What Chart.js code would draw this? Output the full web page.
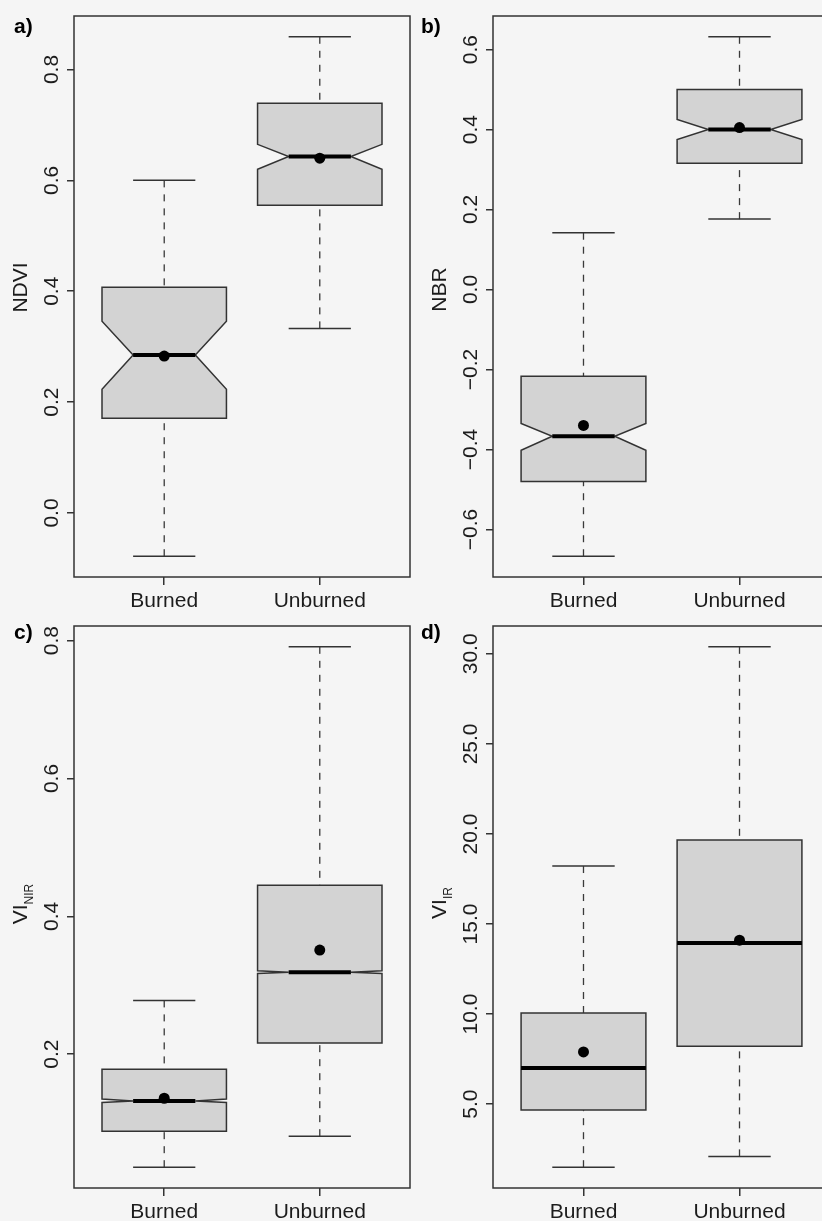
<!DOCTYPE html>
<html>
<head>
<meta charset="utf-8">
<script src="https://cdn.jsdelivr.net/npm/chart.js@4"></script>
<style>
  html, body { margin: 0; padding: 0; background: #f5f5f5; overflow: hidden; }
  body { width: 822px; height: 1221px; position: relative; }
  canvas { position: absolute; }
</style>
</head>
<body>
<canvas id="pa" width="411" height="610" style="left:0;top:0"></canvas>
<canvas id="pb" width="420" height="610" style="left:411px;top:0"></canvas>
<canvas id="pc" width="411" height="611" style="left:0;top:610px"></canvas>
<canvas id="pd" width="420" height="611" style="left:411px;top:610px"></canvas>
<script>
const categories = ["Burned", "Unburned"];

// a) NDVI
const ndviLow     = [-0.078, 0.333];
const ndviQ1      = [0.171, 0.555];
const ndviNotchLo = [0.223, 0.620];
const ndviMedian  = [0.285, 0.643];
const ndviNotchHi = [0.346, 0.665];
const ndviQ3      = [0.407, 0.739];
const ndviHigh    = [0.600, 0.859];
const ndviMean    = [0.283, 0.640];
const ndviTicks   = [0.0, 0.2, 0.4, 0.6, 0.8];

// b) NBR
const nbrLow     = [-0.667, 0.176];
const nbrQ1      = [-0.480, 0.316];
const nbrNotchLo = [-0.402, 0.375];
const nbrMedian  = [-0.367, 0.400];
const nbrNotchHi = [-0.335, 0.425];
const nbrQ3      = [-0.217, 0.500];
const nbrHigh    = [0.142, 0.632];
const nbrMean    = [-0.340, 0.405];
const nbrTicks   = [-0.6, -0.4, -0.2, 0.0, 0.2, 0.4, 0.6];

// c) VI NIR
const nirLow     = [0.036, 0.081];
const nirQ1      = [0.088, 0.216];
const nirNotchLo = [0.130, 0.317];
const nirMedian  = [0.132, 0.319];
const nirNotchHi = [0.135, 0.321];
const nirQ3      = [0.178, 0.445];
const nirHigh    = [0.278, 0.791];
const nirMean    = [0.136, 0.351];
const nirTicks   = [0.2, 0.4, 0.6, 0.8];

// d) VI IR (no notches)
const irLow    = [1.5, 2.1];
const irQ1     = [4.67, 8.22];
const irMedian = [7.0, 13.94];
const irQ3     = [10.06, 19.67];
const irHigh   = [18.22, 30.39];
const irMean   = [7.9, 14.1];
const irTicks  = [5, 10, 15, 20, 25, 30];

const FONT   = '"Liberation Sans", Arial, sans-serif';
const TEXT   = "#1c1c1c";
const LINE   = "#333";
const FILL   = "#d3d3d3";
const BOXWEX = 0.8;

const panels = [
  { id: "pa", tag: "a)", title: "NDVI", sub: "", low: ndviLow, q1: ndviQ1, nlo: ndviNotchLo, med: ndviMedian,
    nhi: ndviNotchHi, q3: ndviQ3, high: ndviHigh, mean: ndviMean, ticks: ndviTicks,
    axisW: 74, tagX: 14, tagY: 33, titleShift: -9 },
  { id: "pb", tag: "b)", title: "NBR", sub: "", low: nbrLow, q1: nbrQ1, nlo: nbrNotchLo, med: nbrMedian,
    nhi: nbrNotchHi, q3: nbrQ3, high: nbrHigh, mean: nbrMean, ticks: nbrTicks,
    axisW: 82, tagX: 10, tagY: 33, titleShift: -7 },
  { id: "pc", tag: "c)", title: "VI", sub: "NIR", low: nirLow, q1: nirQ1, nlo: nirNotchLo, med: nirMedian,
    nhi: nirNotchHi, q3: nirQ3, high: nirHigh, mean: nirMean, ticks: nirTicks,
    axisW: 74, tagX: 14, tagY: 29, titleShift: -3 },
  { id: "pd", tag: "d)", title: "VI", sub: "IR", low: irLow, q1: irQ1, nlo: null, med: irMedian,
    nhi: null, q3: irQ3, high: irHigh, mean: irMean, ticks: irTicks,
    axisW: 82, tagX: 10, tagY: 29, titleShift: -4 },
];

function fmt(v) {
  return v.toFixed(1).replace("-", "\u2212");
}

const measureCtx = document.createElement("canvas").getContext("2d");
function widestLabel(ticks) {
  measureCtx.font = "21px " + FONT;
  return Math.max(...ticks.map(t => measureCtx.measureText(fmt(t)).width));
}

function seg(ctx, x1, y1, x2, y2) {
  ctx.beginPath();
  ctx.moveTo(x1, y1);
  ctx.lineTo(x2, y2);
  ctx.stroke();
}

function boxPlugin(p) {
  return {
    id: "boxes_" + p.id,
    beforeDatasetsDraw(chart) {
      const { ctx, scales: { x, y } } = chart;
      ctx.save();
      categories.forEach((c, i) => {
        const cx = x.getPixelForValue(i + 1);
        const hw = x.getPixelForValue(i + 1 + BOXWEX / 2) - cx;
        const nw = hw / 2;
        const yLow = y.getPixelForValue(p.low[i]);
        const yQ1 = y.getPixelForValue(p.q1[i]);
        const yMed = y.getPixelForValue(p.med[i]);
        const yQ3 = y.getPixelForValue(p.q3[i]);
        const yHigh = y.getPixelForValue(p.high[i]);
        const notched = !!p.nlo;

        // whiskers, dashed, from the end toward the hinge
        ctx.strokeStyle = "#3a3a3a";
        ctx.lineWidth = 1.3;
        ctx.setLineDash([7, 7]);
        seg(ctx, cx, yLow, cx, yQ1);
        seg(ctx, cx, yHigh, cx, yQ3);
        ctx.setLineDash([]);
        ctx.strokeStyle = LINE;
        ctx.lineWidth = 1.5;
        seg(ctx, cx - nw, yLow, cx + nw, yLow);
        seg(ctx, cx - nw, yHigh, cx + nw, yHigh);

        // box body
        ctx.beginPath();
        if (notched) {
          const yNlo = y.getPixelForValue(p.nlo[i]);
          const yNhi = y.getPixelForValue(p.nhi[i]);
          ctx.moveTo(cx - hw, yQ3);
          ctx.lineTo(cx + hw, yQ3);
          ctx.lineTo(cx + hw, yNhi);
          ctx.lineTo(cx + nw, yMed);
          ctx.lineTo(cx + hw, yNlo);
          ctx.lineTo(cx + hw, yQ1);
          ctx.lineTo(cx - hw, yQ1);
          ctx.lineTo(cx - hw, yNlo);
          ctx.lineTo(cx - nw, yMed);
          ctx.lineTo(cx - hw, yNhi);
        } else {
          ctx.rect(cx - hw, yQ3, 2 * hw, yQ1 - yQ3);
        }
        ctx.closePath();
        ctx.fillStyle = FILL;
        ctx.fill();
        ctx.stroke();

        // median
        ctx.strokeStyle = "#000";
        ctx.lineWidth = 4;
        const mw = notched ? nw : hw;
        seg(ctx, cx - mw, yMed, cx + mw, yMed);
      });
      ctx.restore();
    },
    afterDraw(chart) {
      const { ctx, chartArea: a } = chart;
      ctx.save();
      ctx.strokeStyle = LINE;
      ctx.lineWidth = 1.5;
      ctx.strokeRect(a.left, a.top, a.right - a.left, a.bottom - a.top);

      // y title (with optional subscript)
      ctx.fillStyle = TEXT;
      ctx.translate(a.left - 47, (a.top + a.bottom) / 2 + p.titleShift);
      ctx.rotate(-Math.PI / 2);
      ctx.textBaseline = "alphabetic";
      ctx.textAlign = "left";
      ctx.font = "21px " + FONT;
      const w1 = ctx.measureText(p.title).width;
      ctx.font = "12px " + FONT;
      const w2 = p.sub ? ctx.measureText(p.sub).width : 0;
      const start = -(w1 + w2) / 2;
      ctx.font = "21px " + FONT;
      ctx.fillText(p.title, start, 0);
      if (p.sub) {
        ctx.font = "12px " + FONT;
        ctx.fillText(p.sub, start + w1, 6);
      }
      ctx.restore();

      ctx.save();
      ctx.fillStyle = "#000";
      ctx.font = "bold 21px " + FONT;
      ctx.textBaseline = "alphabetic";
      ctx.fillText(p.tag, p.tagX, p.tagY);
      ctx.restore();
    },
  };
}

function buildPanel(p) {
  const lo = Math.min(...p.low), hi = Math.max(...p.high);
  const ext = (hi - lo) * 0.04;
  const pad = 15 - widestLabel(p.ticks) / 2;

  return new Chart(document.getElementById(p.id), {
    type: "scatter",
    data: {
      datasets: [{
        data: p.mean.map((m, i) => ({ x: i + 1, y: m })),
        pointRadius: 5.5,
        pointBackgroundColor: "#000",
        pointBorderWidth: 0,
        showLine: false,
      }],
    },
    options: {
      responsive: false,
      animation: false,
      events: [],
      layout: { autoPadding: false, padding: { top: 16, right: 1, left: 0, bottom: 0 } },
      plugins: { legend: { display: false }, tooltip: { enabled: false } },
      scales: {
        x: {
          type: "linear",
          min: 0.5 - 0.08,
          max: categories.length + 0.5 + 0.08,
          afterBuildTicks: s => { s.ticks = categories.map((c, i) => ({ value: i + 1 })); },
          afterFit: s => { s.height = 33; s.paddingLeft = 0; s.paddingRight = 0; },
          ticks: {
            callback: v => categories[v - 1],
            font: { family: FONT, size: 21 },
            color: TEXT,
            padding: 4,
            maxRotation: 0,
            autoSkip: false,
          },
          grid: { drawOnChartArea: false, drawTicks: true, tickLength: 8, color: LINE, lineWidth: 1.5 },
          border: { display: false },
        },
        y: {
          type: "linear",
          min: lo - ext,
          max: hi + ext,
          afterBuildTicks: s => { s.ticks = p.ticks.map(v => ({ value: v })); },
          afterFit: s => { s.width = p.axisW; s.paddingTop = 0; s.paddingBottom = 0; },
          ticks: {
            callback: v => fmt(v),
            font: { family: FONT, size: 21 },
            color: TEXT,
            minRotation: 90,
            maxRotation: 90,
            crossAlign: "center",
            padding: pad,
            autoSkip: false,
          },
          grid: { drawOnChartArea: false, drawTicks: true, tickLength: 7, color: LINE, lineWidth: 1.5 },
          border: { display: false },
        },
      },
    },
    plugins: [boxPlugin(p)],
  });
}

panels.forEach(buildPanel);
</script>
</body>
</html>
